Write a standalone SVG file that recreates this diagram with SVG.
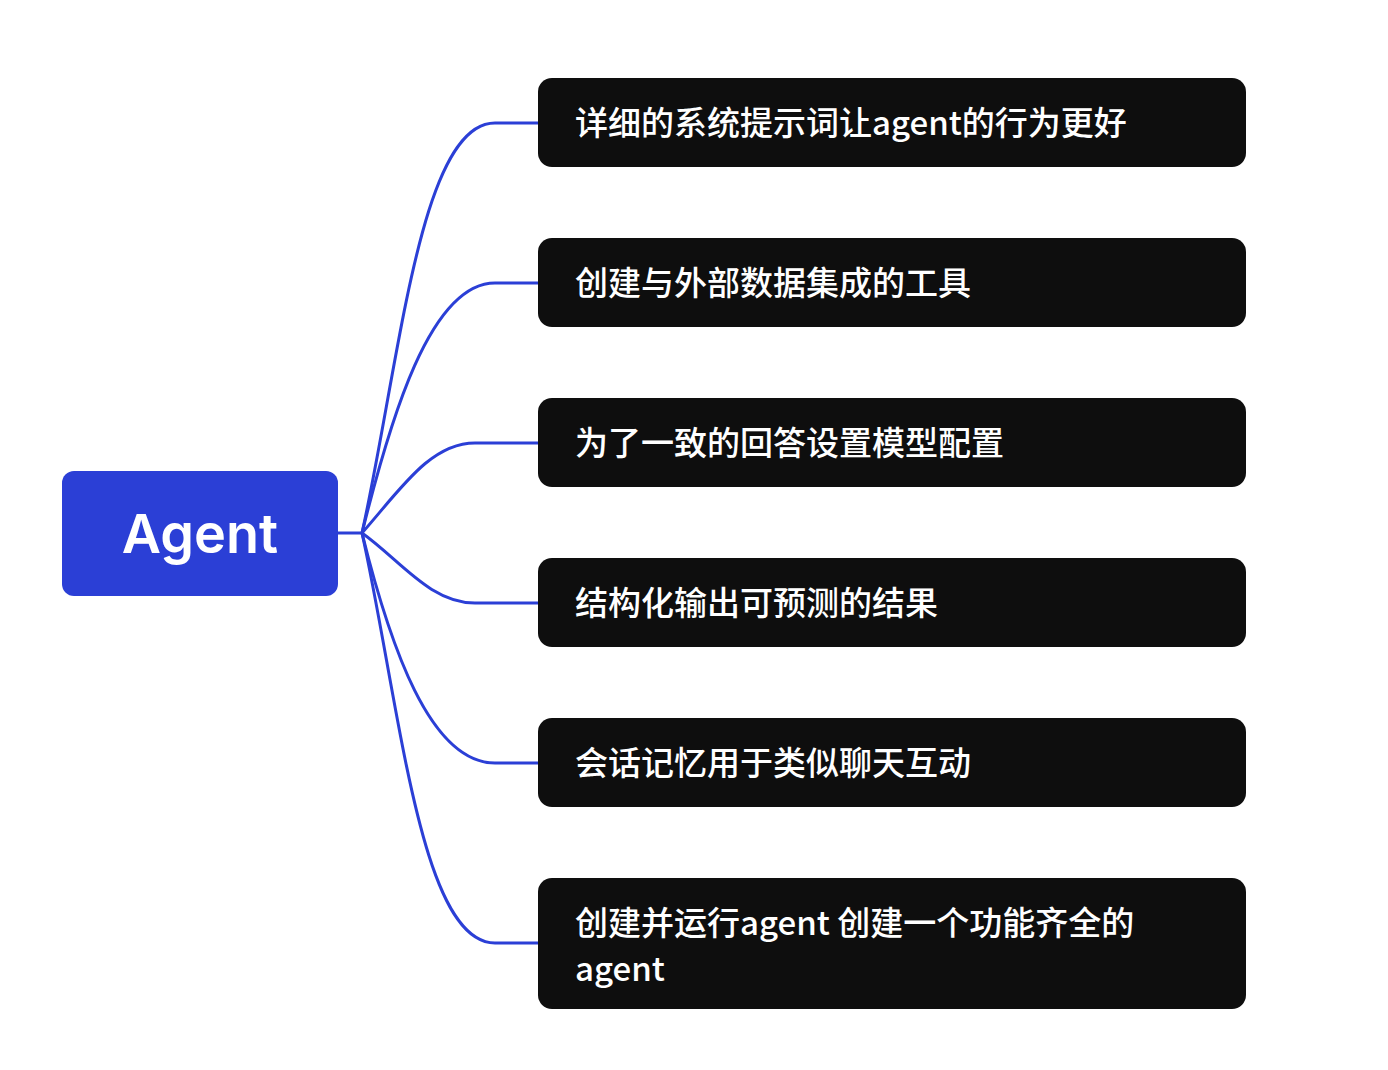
<svg xmlns="http://www.w3.org/2000/svg" width="1388" height="1070" viewBox="0 0 1388 1070">
<style>
.c{fill:none;stroke:#2B3FD6;stroke-width:3}
.b{fill:#0E0E0E}
.t{fill:#fff;font-family:"Noto Sans CJK SC","Noto Sans",sans-serif;font-size:33px;font-weight:500}
</style>
<rect width="1388" height="1070" fill="#fff"/>
<g id="connectors">
<path class="c" d="M338 533H362C400 360 420 123 495 123H538"/>
<path class="c" d="M362 533C390 420 430 283 495 283H538"/>
<path class="c" d="M362 533C400 490 430 443 475 443H538"/>
<path class="c" d="M362 533C400 560 430 603 475 603H538"/>
<path class="c" d="M362 533C390 646 430 763 495 763H538"/>
<path class="c" d="M362 533C400 706 420 943 495 943H538"/>
</g>
<g id="root"><rect x="62" y="471" width="276" height="125" rx="12" fill="#2B3FD6"/>
<text x="200" y="553" text-anchor="middle" fill="#fff" font-family="Inter,'Noto Sans',sans-serif" font-size="54" font-weight="600">Agent</text></g>
<g id="n1"><rect class="b" x="538" y="78" width="708" height="89" rx="14"/><text class="t" x="575" y="135">详细的系统提示词让agent的行为更好</text></g>
<g id="n2"><rect class="b" x="538" y="238" width="708" height="89" rx="14"/><text class="t" x="575" y="295">创建与外部数据集成的工具</text></g>
<g id="n3"><rect class="b" x="538" y="398" width="708" height="89" rx="14"/><text class="t" x="575" y="455">为了一致的回答设置模型配置</text></g>
<g id="n4"><rect class="b" x="538" y="558" width="708" height="89" rx="14"/><text class="t" x="575" y="615">结构化输出可预测的结果</text></g>
<g id="n5"><rect class="b" x="538" y="718" width="708" height="89" rx="14"/><text class="t" x="575" y="775">会话记忆用于类似聊天互动</text></g>
<g id="n6"><rect class="b" x="538" y="878" width="708" height="131" rx="14"/><text class="t" x="575" y="935">创建并运行agent 创建一个功能齐全的</text><text class="t" x="575" y="981">agent</text></g>
</svg>
